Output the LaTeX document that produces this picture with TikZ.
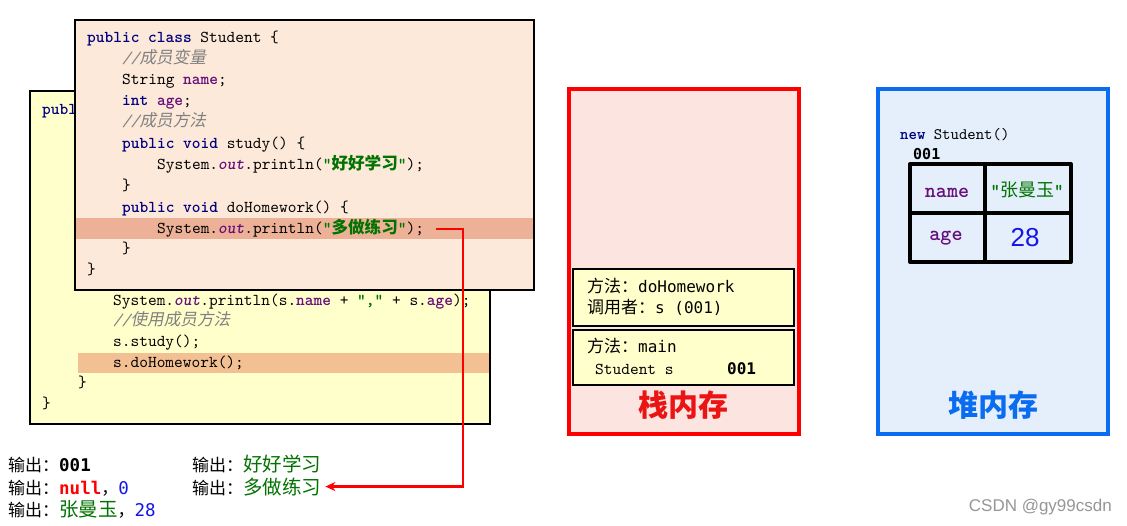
\documentclass[tikz,border=0pt]{standalone}
\usepackage{fontspec}
\usetikzlibrary{arrows.meta}
\newfontfamily\cjk{Noto Sans CJK SC}
\newfontfamily\cjkc{Noto Sans CJK SC}
\newfontfamily\cjkit{Noto Sans CJK SC}[FakeSlant=0.2]
\newfontfamily\codefont{lmmono10-regular.otf}[BoldFont=lmmonolt10-bold.otf, ItalicFont=lmmono10-italic.otf, BoldItalicFont=lmmonolt10-boldoblique.otf]
\newfontfamily\smono{DejaVu Sans Mono}
\newfontfamily\wmfont{Liberation Sans}
\definecolor{kwc}{RGB}{0,0,128}
\definecolor{fldc}{RGB}{102,14,122}
\definecolor{strc}{RGB}{0,115,0}
\definecolor{cmtc}{RGB}{128,128,128}
\definecolor{backfill}{RGB}{255,255,204}
\definecolor{backhl}{RGB}{243,192,148}
\definecolor{frontfill}{RGB}{252,233,217}
\definecolor{fronthl}{RGB}{237,177,152}
\definecolor{stackfill}{RGB}{252,228,224}
\definecolor{stackred}{RGB}{255,0,0}
\definecolor{labred}{RGB}{235,20,20}
\definecolor{heapfill}{RGB}{228,239,251}
\definecolor{heapblue}{RGB}{10,108,240}
\definecolor{numblue}{RGB}{20,20,230}
\definecolor{wmgray}{RGB}{150,150,150}
\newcommand\kw[1]{{\bfseries\color{kwc}#1}}
\newcommand\fld[1]{{\bfseries\color{fldc}#1}}
\newcommand\cstr[1]{{\bfseries\color{strc}"{\cjkc\bfseries #1}"}}
\newcommand\cmt[1]{{\color{cmtc}\itshape //{\cjkit #1}}}
\newcommand\jout{{\color{fldc}\bfseries\itshape out}}
\newcommand\omono{\smono\fontsize{17.5}{20}\selectfont}
\tikzset{
  code/.style={font=\codefont\fontsize{16.6}{19}\selectfont, anchor=base west, inner sep=0pt},
  outtxt/.style={font=\cjk\fontsize{17}{20}\selectfont, anchor=base west, inner sep=0pt},
  stk/.style={font=\smono\fontsize{16}{19}\selectfont, anchor=base west, inner sep=0pt},
  memlab/.style={font=\cjk\bfseries\fontsize{30}{32}\selectfont, inner sep=0pt},
  boxline/.style={line width=2pt, draw=black},
}
\newcommand\grn[1]{{\color{strc}\fontsize{19.5}{21}\selectfont #1}}
\begin{document}
\begin{tikzpicture}[x=1pt,y=-1pt]
\useasboundingbox (0,0) rectangle (1127,526);
\fill[white] (0,0) rectangle (1127,526);

% ---------- back (main) box ----------
\fill[backfill] (30,91) rectangle (490,424);
\fill[backhl] (78,353) rectangle (490,373);
\draw[boxline] (30,91) rectangle (490,424);
\node[code] (b0) at (42,115) {\kw{public}};
\node[code] (b1) at (113,306) {System.\jout.println(s.\fld{name} + {\bfseries\color{strc}","} + s.\fld{age});};
\node[code] (b2) at (113,326) {\cmt{使用成员方法}};
\node[code] (b3) at (113,347) {s.study();};
\node[code] (b4) at (113,368) {s.doHomework();};
\node[code] (b5) at (78,388) {\}};
\node[code] (b6) at (42,408) {\}};

% ---------- front (Student) box ----------
\fill[frontfill] (75,20) rectangle (534,290);
\fill[fronthl] (75,218) rectangle (534,239);
\draw[boxline] (75,20) rectangle (534,290);
\node[code] (f1) at (87,43) {\kw{public class} Student \{};
\node[code] (f2) at (122,64) {\cmt{成员变量}};
\node[code] (f3) at (122,85) {String \fld{name};};
\node[code] (f4) at (122,106) {\kw{int} \fld{age};};
\node[code] (f5) at (122,127) {\cmt{成员方法}};
\node[code] (f6) at (122,149) {\kw{public void} study() \{};
\node[code] (f7) at (157,170) {System.\jout.println(\cstr{好好学习});};
\node[code] (f8) at (122,191) {\}};
\node[code] (f9) at (122,213) {\kw{public void} doHomework() \{};
\node[code] (f10) at (157,234) {System.\jout.println(\cstr{多做练习});};
\node[code] (f11) at (122,254) {\}};
\node[code] (f12) at (87,275) {\}};

% ---------- outputs ----------
\node[outtxt] (o1) at (8,471) {输出：{\omono\bfseries 001}};
\node[outtxt] (o2) at (8,494) {输出：{\omono\bfseries\color{red}null}，{\omono\color{numblue}0}};
\node[outtxt] (o3) at (8,516) {输出：\grn{张曼玉}，{\omono\color{numblue}28}};
\node[outtxt] (o4) at (192,471) {输出：\grn{好好学习}};
\node[outtxt] (o5) at (192,494) {输出：\grn{多做练习}};

% ---------- arrow ----------
\coordinate (as) at (436,229);
\coordinate (ac) at (463,229);
\draw[stackred, line width=2.5pt, -{Stealth[length=10pt,width=9pt]}, shorten >=4pt] (as) -- (ac) |- (o5.east);

% ---------- stack ----------
\draw[line width=4pt, draw=stackred, fill=stackfill] (569,89) rectangle (799,434);
\draw[boxline, fill=backfill] (573,269) rectangle (794,326);
\draw[boxline, fill=backfill] (573,330) rectangle (794,385);
\node[stk] (s1) at (587,293) {{\cjk\fontsize{17}{19}\selectfont 方法：}doHomework};
\node[stk] (s2) at (587,314) {{\cjk\fontsize{17}{19}\selectfont 调用者：}s (001)};
\node[stk] (s3) at (587,353) {{\cjk\fontsize{17}{19}\selectfont 方法：}main};
\node[code] (s4) at (595,374) {Student s};
\node[stk, font=\smono\bfseries\fontsize{16}{19}\selectfont] (s5) at (727,374) {001};
\node[memlab, text=labred] (slab) at (683,405) {栈内存};

% ---------- heap ----------
\draw[line width=4pt, draw=heapblue, fill=heapfill] (878,89) rectangle (1108,434);
\node[code, font=\codefont\fontsize{16}{19}\selectfont] (h1) at (900,140) {\kw{new}~Student()};
\node[stk, font=\smono\bfseries\fontsize{15}{18}\selectfont] (h2) at (913,160) {001};
\draw[line width=4pt, line join=round] (910,164) rectangle (1071,262);
\draw[line width=4pt] (985,164) -- (985,262);
\draw[line width=4pt] (910,213) -- (1071,213);
\node[inner sep=0pt, font=\codefont\bfseries\fontsize{21}{23}\selectfont, text=fldc] (hn) at (947,193) {name};
\node[inner sep=0pt, font=\cjk\fontsize{18}{20}\selectfont, text=strc] (hv) at (1027,190) {{\codefont\bfseries "}张曼玉{\codefont\bfseries "}};
\node[inner sep=0pt, font=\codefont\bfseries\fontsize{21}{23}\selectfont, text=fldc] (ha) at (946,238) {age};
\node[inner sep=0pt, font=\wmfont\fontsize{26}{28}\selectfont, text=numblue] (hg) at (1025,238) {28};
\node[memlab, text=heapblue] (hlab) at (993,405) {堆内存};

% ---------- watermark ----------
\node[anchor=east, inner sep=0pt, font=\wmfont\fontsize{17}{19}\selectfont, text=wmgray] (wm) at (1112,507) {CSDN @gy99csdn};
\end{tikzpicture}
\end{document}
